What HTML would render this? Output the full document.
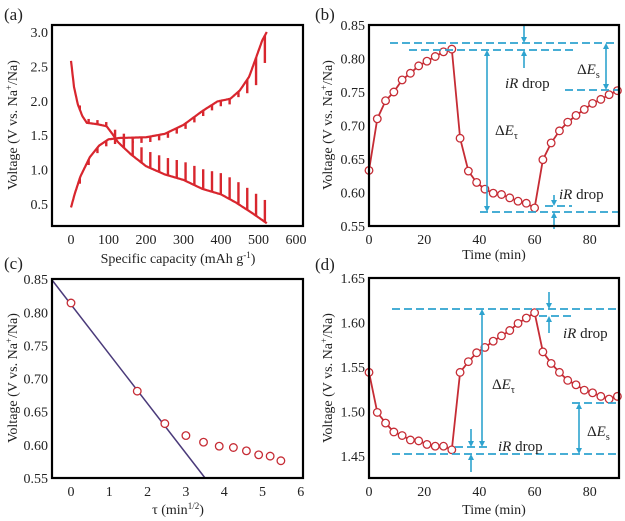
<!DOCTYPE html>
<html><head><meta charset="utf-8"><style>
body{margin:0;background:#fff}
svg{display:block;font-family:"Liberation Serif",serif}
</style></head><body>
<svg id="s" width="625" height="521" viewBox="0 0 625 521"></svg>
<script>
const S=document.getElementById('s');let h='';
const CY='#2ea3cf',RD='#c62c35';
function box(x1,y1,x2,y2){h+=`<rect x="${x1}" y="${y1}" width="${x2-x1}" height="${y2-y1}" fill="none" stroke="#000" stroke-width="2.2"/>`;}
function txt(x,y,t,o=''){h+=`<text x="${x}" y="${y}" font-size="14" fill="#222" ${o}>${t}</text>`;}
function ylab(cx,cy){h+=`<text transform="translate(${cx},${cy}) rotate(-90)" text-anchor="middle" font-size="14" fill="#222">Voltage (V vs. Na<tspan dy="-5" font-size="9">+</tspan><tspan dy="5">/Na)</tspan></text>`;}
function dash(x1,x2,y){h+=`<line x1="${x1}" x2="${x2}" y1="${y}" y2="${y}" stroke="${CY}" stroke-width="1.8" stroke-dasharray="8,4"/>`;}
function arr(x,y1,y2){const d=y2>y1?1:-1;h+=`<line x1="${x}" x2="${x}" y1="${y1}" y2="${y2-d*4}" stroke="${CY}" stroke-width="1.6"/><path d="M${x-3},${y2-d*6}L${x+3},${y2-d*6}L${x},${y2}Z" fill="${CY}"/>`;}
function darr(x,y1,y2){arr(x,(y1+y2)/2,y1);arr(x,(y1+y2)/2,y2);}
function ann(x,y,t,sub){h+=`<text x="${x}" y="${y}" font-size="15" fill="#222">${t}${sub?`<tspan dy="4" font-size="10">${sub}</tspan>`:''}</text>`;}
// ---- (a)
const ax=v=>71+v*0.375, ay=v=>204-(v-0.5)*68.8;
function interp(pts,x){for(let i=0;i<pts.length-1;i++){if(x>=pts[i][0]&&x<=pts[i+1][0]){const t=(x-pts[i][0])/(pts[i+1][0]-pts[i][0]);return pts[i][1]+t*(pts[i+1][1]-pts[i][1]);}}return pts[pts.length-1][1];}
const dis=[[0,2.58],[8,2.2],[18,1.95],[30,1.78],[42,1.68],[70,1.66],[95,1.63],[110,1.52],[125,1.4],[160,1.22],[200,1.05],[250,0.93],[300,0.85],[350,0.72],[400,0.64],[440,0.52],[480,0.38],[522,0.22]];
const chg=[[0,0.45],[10,0.65],[25,0.9],[50,1.18],[75,1.35],[100,1.44],[130,1.46],[200,1.47],[250,1.52],[300,1.65],[350,1.85],[390,1.99],[425,2.03],[450,2.15],[475,2.35],[495,2.65],[510,2.88],[522,3.0]];
let pd='',pc='';
for(let x=0;x<=522;x+=2){pd+=(x?'L':'M')+ax(x).toFixed(1)+','+ay(interp(dis,x)).toFixed(1);pc+=(x?'L':'M')+ax(x).toFixed(1)+','+ay(interp(chg,x)).toFixed(1);}
h+=`<path d="${pd}" fill="none" stroke="#d8262e" stroke-width="2.2"/><path d="${pc}" fill="none" stroke="#d8262e" stroke-width="2.2"/>`;
for(let k=1;k<=22;k++){const x=k*23.5;if(x>522)break;
 const vd=interp(dis,x);const ampD=x<100?0.06:(x<130?0.12:Math.min(0.32,0.2+(x-130)*0.0004));
 h+=`<line x1="${ax(x)}" x2="${ax(x)}" y1="${ay(vd)}" y2="${ay(vd+ampD)}" stroke="#d8262e" stroke-width="2.4"/>`;
 const vc=interp(chg,x);const ampC=x<460?0.08:(x<490?0.2:0.4);
 h+=`<line x1="${ax(x)}" x2="${ax(x)}" y1="${ay(vc)}" y2="${ay(vc-ampC)}" stroke="#d8262e" stroke-width="2.4"/>`;}
box(52,25,303,226);
[0.5,1,1.5,2,2.5,3].forEach(v=>txt(48,ay(v)+5,v.toFixed(1),'text-anchor="end"'));
[0,100,200,300,400,500,600].forEach(v=>txt(ax(v),244,v,'text-anchor="middle"'));
h+=`<text x="178" y="263" text-anchor="middle" font-size="14" fill="#222">Specific capacity (mAh g<tspan dy="-5" font-size="9">-1</tspan><tspan dy="5">)</tspan></text>`;
ylab(17,125);
h+=`<text x="4" y="20" font-size="17" fill="#222">(a)</text>`;
function series(fx,fy,data){let p='';data.forEach((d,i)=>p+=(i?'L':'M')+fx(d[0]).toFixed(1)+','+fy(d[1]).toFixed(1));
 h+=`<path d="${p}" fill="none" stroke="${RD}" stroke-width="1.8"/>`;
 data.forEach(d=>h+=`<circle cx="${fx(d[0])}" cy="${fy(d[1])}" r="3.8" fill="#fff" stroke="${RD}" stroke-width="1.3"/>`);}
// ---- (b)
const bx=v=>369+v*2.76, by=v=>226-(v-0.55)*670;
const bv=[0.633,0.710,0.737,0.750,0.768,0.778,0.789,0.796,0.803,0.810,0.814,0.681,0.632,0.615,0.605,0.599,0.597,0.592,0.587,0.584,0.577,0.649,0.674,0.692,0.705,0.715,0.724,0.733,0.739,0.746,0.752];
series(bx,by,bv.map((v,i)=>[i*3,v]));
dash(390,619,43);dash(409,575,50);dash(565,619,90);dash(480,619,212);dash(545,572,206);
darr(487,50,212);arr(524,25,43);arr(524,68,50);darr(606,43,90);arr(554,195,206);arr(554,229,212);
ann(505,88,'<tspan font-style="italic">iR</tspan> drop');ann(577,74,'Δ<tspan font-style="italic">E</tspan>','s');ann(495,135,'Δ<tspan font-style="italic">E</tspan>','τ');ann(559,199,'<tspan font-style="italic">iR</tspan> drop');
box(369,25,619,226);
[0.55,0.6,0.65,0.7,0.75,0.8,0.85].forEach(v=>txt(365,by(v)+5,v.toFixed(2),'text-anchor="end"'));
[0,20,40,60,80].forEach(v=>txt(bx(v),244,v,'text-anchor="middle"'));
txt(494,259,'Time (min)','text-anchor="middle"');ylab(332,125);
h+=`<text x="315" y="20" font-size="17" fill="#222">(b)</text>`;
// ---- (c)
const cx=v=>71+v*38.3, cy=v=>478-(v-0.55)*663;
h+=`<line x1="${cx(-0.5)}" y1="${cy(0.849)}" x2="${cx(3.5)}" y2="${cy(0.55)}" stroke="#4a3a7a" stroke-width="1.5"/>`;
[[0,0.814],[1.73,0.681],[2.45,0.632],[3,0.614],[3.46,0.604],[3.87,0.598],[4.24,0.596],[4.58,0.591],[4.9,0.585],[5.2,0.583],[5.48,0.576]].forEach(d=>h+=`<circle cx="${cx(d[0])}" cy="${cy(d[1])}" r="3.8" fill="#fff" stroke="${RD}" stroke-width="1.3"/>`);
box(52,279,303,478);
[0.55,0.6,0.65,0.7,0.75,0.8,0.85].forEach(v=>txt(48,cy(v)+5,v.toFixed(2),'text-anchor="end"'));
[0,1,2,3,4,5,6].forEach(v=>txt(cx(v),496,v,'text-anchor="middle"'));
h+=`<text x="178" y="514" text-anchor="middle" font-size="14" fill="#222">τ (min<tspan dy="-5" font-size="9">1/2</tspan><tspan dy="5">)</tspan></text>`;
ylab(17,378);
h+=`<text x="4" y="269" font-size="17" fill="#222">(c)</text>`;
// ---- (d)
const dx=v=>369+v*2.76, dy=v=>456-(v-1.45)*890;
const dv=[1.544,1.499,1.487,1.477,1.473,1.468,1.467,1.463,1.461,1.461,1.457,1.544,1.556,1.566,1.572,1.579,1.585,1.591,1.599,1.605,1.611,1.567,1.554,1.544,1.535,1.530,1.524,1.521,1.517,1.514,1.517];
series(dx,dy,dv.map((v,i)=>[i*3,v]));
dash(392,619,309);dash(539,574,316);dash(572,619,403);dash(392,619,454);dash(455,490,447);
darr(482,309,447);arr(549,292,309);arr(549,333,316);darr(579,403,454);arr(471,429,447);arr(471,472,454);
ann(563,338,'<tspan font-style="italic">iR</tspan> drop');ann(492,389,'Δ<tspan font-style="italic">E</tspan>','τ');ann(498,451,'<tspan font-style="italic">iR</tspan> drop');ann(587,436,'Δ<tspan font-style="italic">E</tspan>','s');
box(369,278,619,478);
[1.45,1.5,1.55,1.6,1.65].forEach(v=>txt(365,dy(v)+5,v.toFixed(2),'text-anchor="end"'));
[0,20,40,60,80].forEach(v=>txt(dx(v),496,v,'text-anchor="middle"'));
txt(494,514,'Time (min)','text-anchor="middle"');ylab(332,378);
h+=`<text x="315" y="270" font-size="17" fill="#222">(d)</text>`;
S.innerHTML=h;
</script>
</body></html>
